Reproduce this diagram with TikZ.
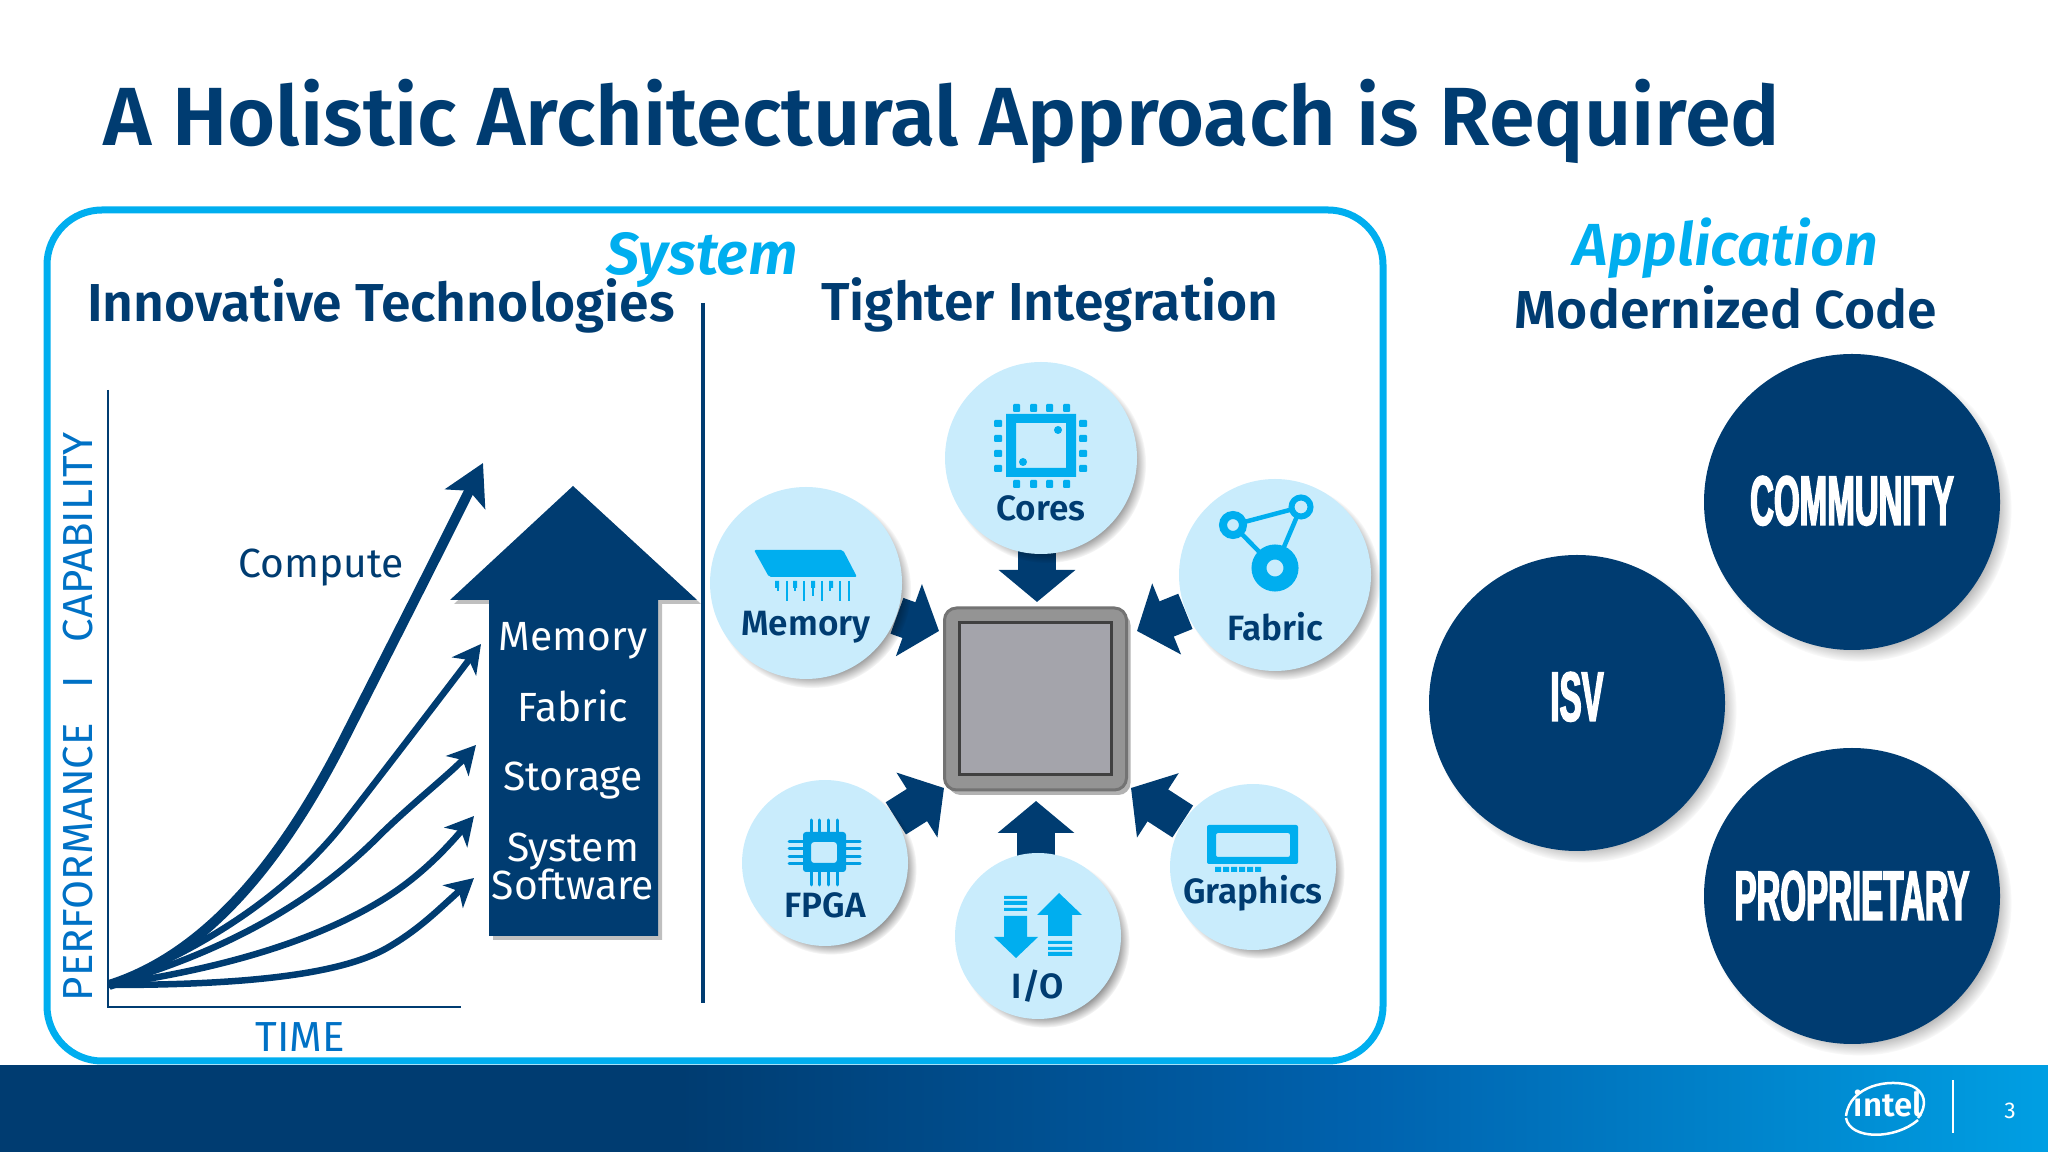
\documentclass[tikz,border=0pt]{standalone}
\usepackage{fontspec}
\setmainfont{Fira Sans}[BoldFont={Fira Sans SemiBold},BoldItalicFont={Fira Sans SemiBold Italic}]
\newfontfamily\stretchfont[FakeStretch=0.47,FakeBold=2]{Liberation Sans Bold}
\usetikzlibrary{arrows.meta,shadows,backgrounds}
\definecolor{inteldark}{HTML}{003C71}
\definecolor{intelcyan}{HTML}{00AEEF}
\definecolor{intelmid}{HTML}{0071C5}
\definecolor{bubble}{HTML}{C9ECFC}
\definecolor{footmid}{HTML}{0062AE}
\definecolor{footend}{HTML}{009FE3}
\definecolor{chipface}{HTML}{A4A4AB}
\pgfdeclarehorizontalshading{footshade}{100bp}{color(0bp)=(inteldark); color(41.6bp)=(inteldark); color(58.3bp)=(footmid); color(75bp)=(footend); color(100bp)=(footend)}
\tikzset{
  headline/.style={anchor=base,inner sep=0pt,text=inteldark,font=\fontsize{23.5}{24}\selectfont\bfseries},
  subhead/.style={anchor=base,inner sep=0pt,text=inteldark,font=\fontsize{15.2}{15}\selectfont\bfseries},
  cyanhead/.style={anchor=base,inner sep=0pt,text=intelcyan,font=\fontsize{16.9}{16}\selectfont\bfseries\itshape},
  plainlabel/.style={anchor=base,inner sep=0pt,font=\fontsize{11.6}{12}\selectfont},
  axislabel/.style={anchor=base,inner sep=0pt,text=intelmid,font=\fontsize{11.95}{12}\selectfont},
  smalllabel/.style={anchor=base,inner sep=0pt,text=inteldark,font=\fontsize{10}{9}\selectfont\bfseries},
  bigname/.style={anchor=base,inner sep=0pt,text=white,font=\fontsize{20}{20}\stretchfont},
  growth/.style={draw=inteldark,line width=0.65mm,-{Stealth[length=2.8mm,width=3mm,inset=0.8mm]}},
  growthbig/.style={draw=inteldark,line width=1mm,-{Stealth[length=4mm,width=4.4mm,inset=0.9mm]}},
  feed/.style={draw=inteldark,line width=3.8mm,-{Triangle[length=3.2mm,width=7.5mm]}},
  bubblebig/.style={circle,fill=bubble,minimum size=19.2mm,inner sep=0pt,
    circular drop shadow={shadow xshift=0.6mm,shadow yshift=-0.6mm,shadow scale=1.03,fill=black,opacity=0.45}},
  bubblesmall/.style={circle,fill=bubble,minimum size=16.6mm,inner sep=0pt,
    circular drop shadow={shadow xshift=0.6mm,shadow yshift=-0.6mm,shadow scale=1.03,fill=black,opacity=0.45}},
  bubbledark/.style={circle,fill=inteldark,minimum size=29.6mm,inner sep=0pt,
    circular drop shadow={shadow xshift=0.7mm,shadow yshift=-0.7mm,shadow scale=1.03,fill=black,opacity=0.4}}
}
\begin{document}
\begin{tikzpicture}[x=0.1mm,y=-0.1mm]
\useasboundingbox (0,0) rectangle (2048,1152);
\draw[intelcyan,line width=0.7mm,rounded corners=5.5mm] (47,210) rectangle (1383,1061);
\shade[shading=footshade] (0,1066) rectangle (2048,1152);
\node[headline,anchor=base west] (title) at (103,146) {A Holistic Architectural Approach is Required};
\node[cyanhead] (system) at (702,275) {System};
\node[subhead] (innovative) at (381,322) {Innovative Technologies};
\node[subhead] (tighter) at (1050,321) {Tighter Integration};
\node[cyanhead] (application) at (1726,266) {Application};
\node[subhead] (modernized) at (1726,329) {Modernized Code};
\draw[inteldark,line width=0.35mm] (703,303) -- (703,1003);
\draw[inteldark,line width=0.12mm] (108,390) -- (108,1007) -- (461,1007);
\node[axislabel,anchor=base west,rotate=90] (perf) at (92,1002) {PERFORMANCE\hspace{0.55em} I \hspace{0.55em}CAPABILITY};
\node[axislabel] (time) at (300,1052) {TIME};
\node[plainlabel,text=inteldark] (compute) at (321,578) {Compute};
\coordinate (start) at (109,985);
\coordinate (tipcompute) at (483,463);
\coordinate (tipmemory) at (481,644);
\coordinate (tipstorage) at (476,745);
\coordinate (tipfabric) at (474,816);
\coordinate (tipsoftware) at (474,878);
\draw[growth] (start) .. controls (260,985) and (345,972) .. (387,948) .. controls (420,929) and (440,908) .. (tipsoftware);
\draw[growth] (start) .. controls (250,965) and (335,930) .. (387,897) .. controls (420,876) and (445,850) .. (tipfabric);
\draw[growth] (start) .. controls (250,945) and (330,885) .. (378,837) .. controls (408,807) and (452,772) .. (tipstorage);
\draw[growth] (start) .. controls (215,945) and (295,885) .. (343,824) .. controls (385,770) and (450,685) .. (tipmemory);
\draw[growthbig] (start) .. controls (220,950) and (295,835) .. (343,741) .. controls (380,668) and (430,570) .. (tipcompute);
\fill[inteldark,drop shadow={shadow xshift=0.4mm,shadow yshift=-0.4mm,fill=black,opacity=0.25}] (573,486) -- (697,600) -- (658,600) -- (658,936) -- (489,936) -- (489,600) -- (450,600) -- cycle;
\node[plainlabel,text=white] (lmemory) at (573,651) {Memory};
\node[plainlabel,text=white] (lfabric) at (573,722) {Fabric};
\node[plainlabel,text=white] (lstorage) at (573,791) {Storage};
\node[plainlabel,text=white] (lsystem) at (573,862) {System};
\node[plainlabel,text=white] (lsoftware) at (573,900) {Software};
\node[draw=black!55,fill=black!42,line width=0.3mm,rounded corners=1.2mm,minimum size=18.2mm,inner sep=0pt,
  drop shadow={shadow xshift=0.4mm,shadow yshift=-0.5mm,fill=black,opacity=0.3}] (chip) at (1035.5,699) {};
\node[draw=black!75,fill=chipface,line width=0.3mm,minimum size=15.2mm,inner sep=0pt] (chipinner) at (1035.5,698.5) {};
\node[bubblebig] (cores) at (1041,458) {};
\node[bubblebig] (memory) at (806,583) {};
\node[bubblebig] (fabric) at (1275,575) {};
\node[bubblesmall] (fpga) at (825,863) {};
\node[bubblesmall] (io) at (1038,936) {};
\node[bubblesmall] (graphics) at (1253,867) {};
\coordinate (tipcores) at (1037,602);
\coordinate (tipmem) at (939,631);
\coordinate (tipfab) at (1137,631);
\coordinate (tipfpga) at (944,788);
\coordinate (tipgfx) at (1131,788);
\coordinate (tipio) at (1036,801);
\begin{scope}[on background layer]
\draw[feed] (tipcores |- cores) -- (tipcores);
\draw[feed] (memory) -- (tipmem);
\draw[feed] (fabric) -- (tipfab);
\draw[feed] (fpga) -- (tipfpga);
\draw[feed] (graphics) -- (tipgfx);
\draw[feed] (tipio |- io) -- (tipio);
\end{scope}
\node[smalllabel] (lcores) at (1041,521) {Cores};
\node[smalllabel] (lmem) at (806,636) {Memory};
\node[smalllabel] (lfab) at (1275,641) {Fabric};
\node[smalllabel] (lfpga) at (825,918) {FPGA};
\node[smalllabel] (lio) at (1038,999) {I/O};
\node[smalllabel] (lgfx) at (1253,904) {Graphics};
\fill[intelcyan,even odd rule] (1006,414) rectangle (1076,477) (1016,423) rectangle (1066,468);
\fill[intelcyan,rounded corners=0.1mm] (1013,404) rectangle +(7,8) (1030,404) rectangle +(7,8) (1046,404) rectangle +(7,8) (1063,404) rectangle +(7,8);
\fill[intelcyan,rounded corners=0.1mm] (1013,480) rectangle +(7,8) (1030,480) rectangle +(7,8) (1046,480) rectangle +(7,8) (1063,480) rectangle +(7,8);
\fill[intelcyan,rounded corners=0.1mm] (994,420) rectangle +(8,7) (994,435) rectangle +(8,7) (994,450) rectangle +(8,7) (994,465) rectangle +(8,7);
\fill[intelcyan,rounded corners=0.1mm] (1079,420) rectangle +(8,7) (1079,435) rectangle +(8,7) (1079,450) rectangle +(8,7) (1079,465) rectangle +(8,7);
\fill[intelcyan] (1058,430) circle (4) (1023,462) circle (4);
\fill[intelcyan,rounded corners=0.2mm] (754,550) -- (843,550) -- (857,577) -- (769,577) -- cycle;
\draw[intelcyan,line width=0.15mm] (778,581) -- (778,591) (787,581) -- (787,601) (795,581) -- (795,591) (804,581) -- (804,601) (813,581) -- (813,596) (822,581) -- (822,601) (830,581) -- (830,591) (840,581) -- (840,601) (849,581) -- (849,601);
\fill[intelcyan] (775,581) rectangle +(4,7) (793,581) rectangle +(4,7) (811,581) rectangle +(4,7) (829,581) rectangle +(4,7);
\draw[intelcyan,line width=0.45mm] (1233,525) -- (1301,507) -- (1275,568) -- cycle;
\draw[intelcyan,line width=0.8mm,fill=bubble] (1233,525) circle (10);
\draw[intelcyan,line width=0.6mm,fill=bubble] (1301,507) circle (9.5);
\draw[intelcyan,line width=1.5mm,fill=bubble] (1275,568) circle (16);
\fill[intelcyan!75!intelmid,even odd rule,rounded corners=0.3mm] (803,832) rectangle (846,872) (811,842) rectangle (837,863);
\draw[intelcyan!75!intelmid,line width=0.3mm,line cap=round] (811,820) -- (811,832) (819,820) -- (819,832) (828,820) -- (828,832) (837,820) -- (837,832);
\draw[intelcyan!75!intelmid,line width=0.3mm,line cap=round] (811,872) -- (811,885) (819,872) -- (819,885) (828,872) -- (828,885) (837,872) -- (837,885);
\draw[intelcyan!75!intelmid,line width=0.3mm,line cap=round] (789,842) -- (803,842) (789,849) -- (803,849) (789,857) -- (803,857) (789,864) -- (803,864);
\draw[intelcyan!75!intelmid,line width=0.3mm,line cap=round] (846,842) -- (860,842) (846,849) -- (860,849) (846,857) -- (860,857) (846,864) -- (860,864);
\fill[intelcyan,even odd rule,rounded corners=0.2mm] (1207,825) rectangle (1298,864) (1216,833) rectangle (1290,857);
\fill[intelcyan] (1215,867) rectangle +(6,5) (1223,867) rectangle +(6,5) (1231,867) rectangle +(6,5) (1239,867) rectangle +(6,5) (1247,867) rectangle +(6,5) (1255,867) rectangle +(6,5);
\fill[intelcyan] (1004,896) rectangle (1027,899) (1004,901) rectangle (1027,905) (1004,908) rectangle (1027,911);
\fill[intelcyan] (1004,916) -- (1027,916) -- (1027,937) -- (1038,937) -- (1016,958) -- (994,937) -- (1004,937) -- cycle;
\fill[intelcyan] (1059,893) -- (1082,915) -- (1072,915) -- (1072,936) -- (1048,936) -- (1048,915) -- (1037,915) -- cycle;
\fill[intelcyan] (1048,941) rectangle (1072,944) (1048,947) rectangle (1072,950) (1048,952) rectangle (1072,956);
\node[bubbledark] (community) at (1852,502) {};
\node[bubbledark] (isv) at (1577,703) {};
\node[bubbledark] (proprietary) at (1852,896) {};
\node[bigname] (lcommunity) at (1852,525) {COMMUNITY};
\node[bigname] (lisv) at (1577,721) {ISV};
\node[bigname] (lproprietary) at (1852,920) {PROPRIETARY};
\node[anchor=base,inner sep=0pt,text=white,font=\fontsize{9.4}{10}\selectfont\bfseries] (intel) at (1888,1117) {intel};
\node[anchor=base,inner sep=0pt,text=white,font=\fontsize{2.6}{3}\selectfont] (reg) at (1917,1098) {®};
\draw[white,line width=0.25mm] (1846,1116) .. controls (1850,1085) and (1890,1078) .. (1912,1086) .. controls (1925,1092) and (1928,1105) .. (1918,1118);
\draw[white,line width=0.25mm] (1846,1118) .. controls (1850,1140) and (1895,1140) .. (1918,1120);
\draw[white,line width=0.12mm] (1953,1080) -- (1953,1133);
\node[anchor=base,inner sep=0pt,text=white,font=\fontsize{6.5}{7}\selectfont] (page) at (2010,1119) {3};
\end{tikzpicture}
\end{document}
